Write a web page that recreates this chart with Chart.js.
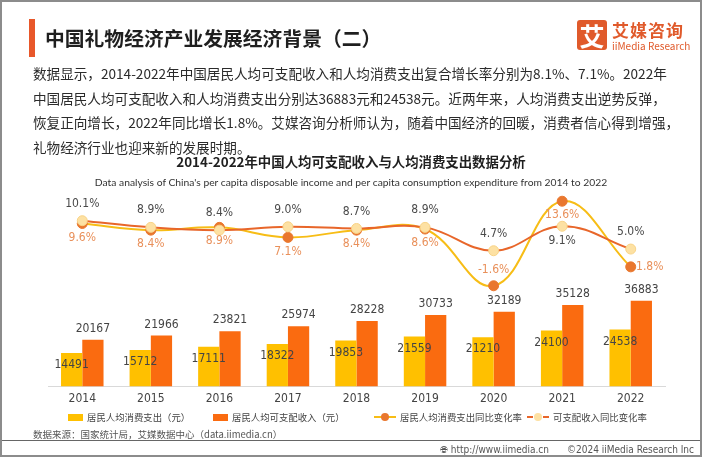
<!DOCTYPE html>
<html>
<head>
<meta charset="utf-8">
<script src="https://cdn.jsdelivr.net/npm/chart.js@4/dist/chart.umd.min.js"></script>
<style>
  html, body { margin: 0; padding: 0; background: #fff; }
  #page {
    position: relative; width: 702px; height: 457px; overflow: hidden;
    box-sizing: border-box; border: 2px solid #8c8c8c; background: #fff;
    font-family: "Noto Sans CJK SC", "Noto Sans", sans-serif; color: #333;
  }
  #page div { position: absolute; white-space: nowrap; }
  #chart { position: absolute; left: -2px; top: -2px; }
  .bar-mark { width: 6px; height: 38px; background: #e8572a; left: 27px; top: 17px; }
  .title { left: 43px; top: 21px; font-size: 19.8px; font-weight: 700; color: #1f1f1f; line-height: 30px; }
  .logo-box { left: 575px; top: 18px; width: 30px; height: 30px; background: #e05a2b; border-radius: 3px;
    color: #fff; font-size: 25px; font-weight: 700; text-align: center; line-height: 30px; }
  .logo-cn { left: 610px; top: 17px; font-size: 17px; font-weight: 700; color: #e05a2b; letter-spacing: 1px; line-height: 22px; }
  .logo-en { left: 610px; top: 38px; font-size: 10px; color: #e05a2b; line-height: 12px; }
  .para { left: 31px; top: 59px; font-size: 13.6px; line-height: 24.5px; color: #2b2b2b; }
  .ctitle { left: 0; width: 698px; text-align: center; top: 148px; font-size: 13.4px; font-weight: 700; color: #1f1f1f; line-height: 22px; }
  .csub { left: 0; width: 698px; text-align: center; top: 173px; font-size: 10.3px; color: #333; line-height: 14px; font-family: Lato, "Open Sans", sans-serif; }
  .legend { top: 408px; font-size: 9.4px; color: #444; line-height: 14px; }
  .sw { display: inline-block; vertical-align: middle; margin-right: 4px; position: relative; top: -1px; }
  .source { left: 31px; top: 425px; font-size: 9.5px; color: #555; line-height: 14px; }
  .rule { left: 0; top: 438px; width: 698px; height: 1px; background: #666; }
  .foot { top: 441px; font-size: 10px; color: #555; line-height: 14px; font-family: "Liberation Sans Narrow", "DejaVu Sans Condensed", sans-serif; }
</style>
</head>
<body>
<div id="page">
  <canvas id="chart" width="702" height="457"></canvas>
  <div class="bar-mark"></div>
  <div class="title">中国礼物经济产业发展经济背景（二）</div>
  <div class="logo-box">艾</div>
  <div class="logo-cn">艾媒咨询</div>
  <div class="logo-en">iiMedia Research</div>
  <div class="para">数据显示，2014-2022年中国居民人均可支配收入和人均消费支出复合增长率分别为8.1%、7.1%。2022年<br>中国居民人均可支配收入和人均消费支出分别达36883元和24538元。近两年来，人均消费支出逆势反弹，<br>恢复正向增长，2022年同比增长1.8%。艾媒咨询分析师认为，随着中国经济的回暖，消费者信心得到增强，<br>礼物经济行业也迎来新的发展时期。</div>
  <div class="ctitle">2014-2022年中国人均可支配收入与人均消费支出数据分析</div>
  <div class="csub">Data analysis of China's per capita disposable income and per capita consumption expenditure from 2014 to 2022</div>

  <div class="legend" style="left:66px"><span class="sw" style="width:15px;height:7px;background:#ffc000"></span>居民人均消费支出（元）</div>
  <div class="legend" style="left:211px"><span class="sw" style="width:15px;height:7px;background:#fa6b10"></span>居民人均可支配收入（元）</div>
  <div class="legend" style="left:372px"><span class="sw" style="width:22px;height:8px">
      <span style="position:absolute;left:0;top:3px;width:22px;height:2px;background:#f7bd16"></span>
      <span style="position:absolute;left:7px;top:0;width:8px;height:8px;border-radius:50%;background:#e9772e"></span></span>居民人均消费支出同比变化率</div>
  <div class="legend" style="left:525px"><span class="sw" style="width:22px;height:8px">
      <span style="position:absolute;left:0;top:3px;width:6px;height:2px;background:#e8662a"></span>
      <span style="position:absolute;left:16px;top:3px;width:6px;height:2px;background:#e8662a"></span>
      <span style="position:absolute;left:7px;top:0;width:8px;height:8px;border-radius:50%;background:#fde1a3"></span></span>可支配收入同比变化率</div>

  <div class="source">数据来源：国家统计局，艾媒数据中心（data.iimedia.cn）</div>
  <div class="rule"></div>
  <div class="foot" style="left:438px">&#x1F310;&#xFE0E; http://www.iimedia.cn</div>
  <div class="foot" style="left:565px">©2024 iiMedia Research Inc</div>
</div>

<script>
// 数据
const years = ['2014', '2015', '2016', '2017', '2018', '2019', '2020', '2021', '2022'];
const consumption = [14491, 15712, 17111, 18322, 19853, 21559, 21210, 24100, 24538];
const income = [20167, 21966, 23821, 25974, 28228, 30733, 32189, 35128, 36883];
const consumptionGrowth = [9.6, 8.4, 8.9, 7.1, 8.4, 8.6, -1.6, 13.6, 1.8];
const incomeGrowth = [10.1, 8.9, 8.4, 9.0, 8.7, 8.9, 4.7, 9.1, 5.0];

// where each percentage label sits relative to its point
const incomeLabelPos = ['top', 'top', 'top', 'top', 'top', 'top', 'top', 'bottom', 'top'];
const consLabelPos = ['bottom', 'bottom', 'bottom', 'bottom', 'bottom', 'bottom', 'top', 'bottom', 'right'];

const numFont = '12px "Liberation Sans Narrow", "DejaVu Sans Condensed", sans-serif';

const labelPlugin = {
    id: 'valueLabels',
    afterDatasetsDraw(chart) {
        const ctx = chart.ctx;
        ctx.save();
        ctx.font = numFont;
        ctx.textAlign = 'center';
        ctx.textBaseline = 'middle';
        chart.data.datasets.forEach((ds, i) => {
            const meta = chart.getDatasetMeta(i);
            meta.data.forEach((el, j) => {
                let x = el.x, y = el.y, txt;
                if (ds.key === 'cons') {
                    ctx.fillStyle = '#444';
                    txt = ds.data[j];
                    y = el.y + 12;
                } else if (ds.key === 'inc') {
                    ctx.fillStyle = '#444';
                    txt = ds.data[j];
                    y = el.y - 11;
                } else if (ds.key === 'incG') {
                    ctx.fillStyle = '#4a4a4a';
                    txt = ds.data[j].toFixed(1) + '%';
                    y = incomeLabelPos[j] === 'top' ? el.y - 17 : el.y + 15;
                } else if (ds.key === 'consG') {
                    ctx.fillStyle = '#e9905a';
                    txt = ds.data[j].toFixed(1) + '%';
                    const p = consLabelPos[j];
                    if (p === 'top') y = el.y - 16;
                    else if (p === 'bottom') y = el.y + 14;
                    else { x = el.x + 19; }
                }
                ctx.fillText(txt, x, y);
            });
        });
        ctx.restore();
    }
};

new Chart(document.getElementById('chart'), {
    type: 'bar',
    data: {
        labels: years,
        datasets: [
            {
                key: 'incG', type: 'line', label: '可支配收入同比变化率', data: incomeGrowth, yAxisID: 'y1',
                borderColor: '#e8662a', borderWidth: 2, tension: 0.4, order: 0, clip: false,
                pointRadius: 5, pointBackgroundColor: '#fde1a3', pointBorderColor: '#f8d387', pointBorderWidth: 1
            },
            {
                key: 'consG', type: 'line', label: '居民人均消费支出同比变化率', data: consumptionGrowth, yAxisID: 'y1',
                borderColor: '#f7bd16', borderWidth: 2, tension: 0.4, order: 1, clip: false,
                pointRadius: 5, pointBackgroundColor: '#e9772e', pointBorderColor: '#e9772e', pointBorderWidth: 1
            },
            {
                key: 'cons', label: '居民人均消费支出（元）', data: consumption, yAxisID: 'y',
                backgroundColor: '#ffc000', order: 2, categoryPercentage: 0.62, barPercentage: 1.0
            },
            {
                key: 'inc', label: '居民人均可支配收入（元）', data: income, yAxisID: 'y',
                backgroundColor: '#fa6b10', order: 3, categoryPercentage: 0.62, barPercentage: 1.0
            }
        ]
    },
    options: {
        responsive: false,
        devicePixelRatio: 1,
        animation: false,
        layout: { padding: { left: 48, right: 37, top: 192, bottom: 46 } },
        plugins: { legend: { display: false }, tooltip: { enabled: false } },
        scales: {
            x: {
                grid: { display: false, drawTicks: false },
                border: { display: true, color: '#d9d9d9', width: 1 },
                ticks: { color: '#444', font: { size: 12, family: '"Liberation Sans Narrow", "DejaVu Sans Condensed", sans-serif' }, padding: 5 }
            },
            y: { display: false, min: 0, max: 83660 },
            y1: { display: false, min: -19.73, max: 15.26 }
        }
    },
    plugins: [labelPlugin]
});
</script>
</body>
</html>
